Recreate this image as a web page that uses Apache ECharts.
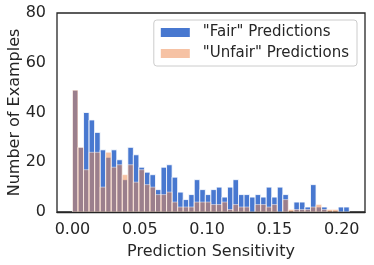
<!DOCTYPE html>
<html><head><meta charset="utf-8">
<script src="https://cdn.jsdelivr.net/npm/echarts@6/dist/echarts.min.js"></script>
<style>html,body{margin:0;padding:0;background:#fff}#c{width:374px;height:265px}</style>
</head><body><div id="c"></div>
<script>
const binEdges = [0, 0.00411, 0.00822, 0.01234, 0.01645, 0.02056, 0.02467, 0.02878, 0.0329, 0.03701,
  0.04112, 0.04523, 0.04934, 0.05346, 0.05757, 0.06168, 0.06579, 0.0699, 0.07402, 0.07813,
  0.08224, 0.08635, 0.09046, 0.09458, 0.09869, 0.1028, 0.10691, 0.11102, 0.11514, 0.11925,
  0.12336, 0.12747, 0.13158, 0.1357, 0.13981, 0.14392, 0.14803, 0.15214, 0.15626, 0.16037,
  0.16448, 0.16859, 0.1727, 0.17682, 0.18093, 0.18504, 0.18915, 0.19326, 0.19738, 0.20149, 0.2056];
const fairCounts = [49, 26, 40, 37, 32, 25, 22, 25, 21, 13,
  26, 23, 18, 16, 15, 9, 18, 19, 14, 8,
  5, 7, 13, 9, 7, 9, 10, 6, 10, 13,
  7, 7, 6, 7, 6, 10, 6, 10, 7, 0,
  4, 4, 2, 11, 2, 2, 0, 0, 2, 2];
const unfairCounts = [49, 26, 17, 24, 24, 10, 24, 18, 19, 15,
  19, 12, 17, 11, 10, 7, 7, 8, 4, 2,
  2, 2, 4, 4, 4, 3, 3, 4, 1, 3,
  2, 2, 0, 3, 3, 2, 3, 0, 5, 1,
  1, 1, 1, 2, 3, 1, 1, 1, 0, 0];
const xTickValues = [0, 0.05, 0.10, 0.15, 0.20];
const seriesNames = ['"Fair" Predictions', '"Unfair" Predictions'];
const xTitle = 'Prediction Sensitivity';
const yTitle = 'Number of Examples';

const FONT = 'DejaVu Sans';
const TXT = '#262626';
const BLUE = '#4878d0';
const ORANGE = 'rgba(238,133,74,0.5)';

function toBins(counts) { return counts.map((v, i) => [binEdges[i], binEdges[i + 1], v]); }
function renderBar(fill, stroke) {
  return function (params, api) {
    const v = api.value(2);
    if (!v) return null;
    const p0 = api.coord([api.value(0), 0]);
    const p1 = api.coord([api.value(1), v]);
    return {
      type: 'rect',
      shape: { x: p0[0], y: p1[1], width: p1[0] - p0[0], height: p0[1] - p1[1] },
      style: { fill: fill, stroke: stroke, lineWidth: 0.8 }
    };
  };
}

const chart = echarts.init(document.getElementById('c'), null, { renderer: 'canvas' });
chart.setOption({
  animation: false,
  textStyle: { fontFamily: FONT, color: TXT },
  grid: { left: 57, right: 9, top: 13, bottom: 53, containLabel: false, outerBoundsMode: 'none',
    show: true, borderColor: TXT, borderWidth: 1.3, backgroundColor: 'transparent' },
  legend: {
    data: seriesNames,
    orient: 'vertical',
    right: 17, top: 20,
    backgroundColor: '#fff',
    borderColor: '#cccccc', borderWidth: 1, borderRadius: 3,
    padding: [5, 8, 5, 7],
    itemWidth: 29, itemHeight: 9, itemGap: 6,
    icon: 'rect',
    textStyle: { fontFamily: FONT, fontSize: 15, color: TXT, padding: [0, 0, 0, 8] }
  },
  xAxis: {
    type: 'value', min: -0.0115, max: 0.2173, z: 10,
    name: xTitle, nameLocation: 'middle', nameGap: 32, nameMoveOverlap: false,
    nameTextStyle: { fontFamily: FONT, fontSize: 16, color: TXT },
    axisLine: { show: true, onZero: false, lineStyle: { color: TXT, width: 1.3 } },
    axisTick: { show: false },
    splitLine: { show: false },
    axisLabel: { customValues: xTickValues, formatter: v => v.toFixed(2), fontFamily: FONT, fontSize: 16, color: TXT, margin: 10 }
  },
  yAxis: {
    type: 'value', min: 0, max: 80, interval: 20,
    name: yTitle, nameLocation: 'middle', nameGap: 34, nameMoveOverlap: false,
    nameTextStyle: { fontFamily: FONT, fontSize: 16, color: TXT },
    axisLine: { show: false, onZero: false },
    axisTick: { show: false },
    splitLine: { show: false },
    axisLabel: { fontFamily: FONT, fontSize: 16, color: TXT, margin: 11 }
  },
  series: [
    { name: seriesNames[0], type: 'custom', renderItem: renderBar(BLUE, '#ffffff'),
      itemStyle: { color: BLUE }, encode: { x: [0, 1], y: 2 }, data: toBins(fairCounts), z: 2 },
    { name: seriesNames[1], type: 'custom', renderItem: renderBar(ORANGE, 'rgba(255,255,255,0.6)'),
      itemStyle: { color: ORANGE }, encode: { x: [0, 1], y: 2 }, data: toBins(unfairCounts), z: 3 }
  ]
});
</script></body></html>
